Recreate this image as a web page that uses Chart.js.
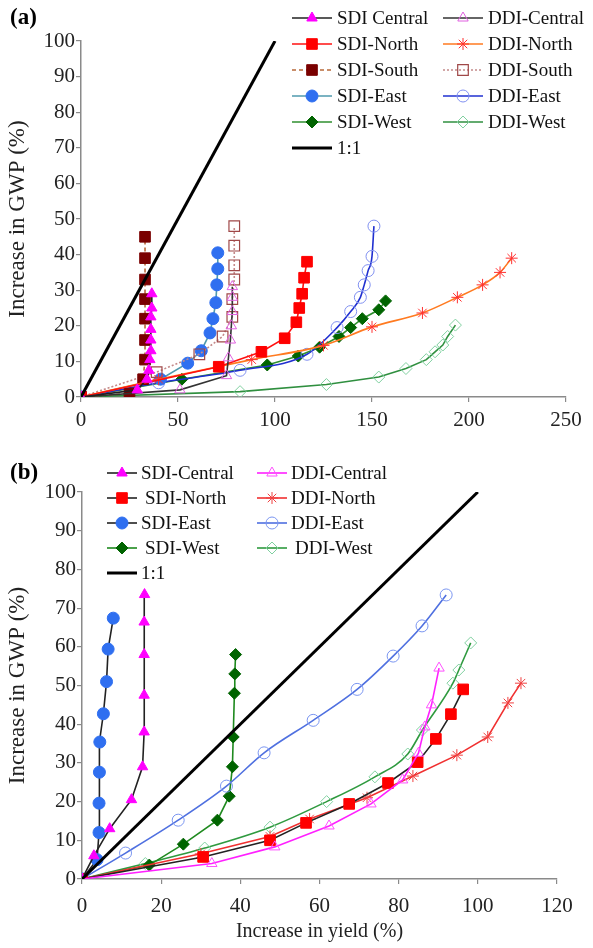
<!DOCTYPE html>
<html>
<head>
<meta charset="utf-8">
<script src="https://cdn.jsdelivr.net/npm/chart.js@4.4.1/dist/chart.umd.min.js"></script>
<style>
  body { margin: 0; background: #fff; }
  canvas { display: block; }
</style>
</head>
<body>
<canvas id="chartA" width="593" height="430"></canvas>
<canvas id="chartB" width="593" height="518"></canvas>
<script>
// ---- panel (a) data: increase in yield (x) vs increase in GWP (y), % ----
const aSdiCentralX = [0, 29, 34, 35, 35.5, 36, 36, 36, 36, 36.5, 36.5];
const aSdiCentralY = [0, 2, 5, 7.5, 10.5, 13, 16, 19, 22.5, 25, 29];
const aSdiNorthX = [0, 71, 93, 105, 111, 112.5, 114, 115, 116.5];
const aSdiNorthY = [0, 8.5, 12.7, 16.5, 21, 25, 29, 33.5, 38];
const aSdiSouthX = [0, 25, 32, 33, 33, 33, 33, 33, 33, 33];
const aSdiSouthY = [0, 1, 5, 10.5, 16, 22, 27.5, 33, 39, 45];
const aSdiEastX = [0, 41, 55, 62, 66.5, 68, 69.5, 70, 70.5, 70.5];
const aSdiEastY = [0, 5, 9.5, 13, 18, 22, 26.5, 31.5, 36, 40.5];
const aSdiWestX = [0, 52, 96, 112, 123, 133, 139, 145, 153.5, 157];
const aSdiWestY = [0, 5, 9, 11.5, 14, 17, 19.5, 22, 24.5, 27];
const aDdiCentralX = [0, 51, 75, 76, 77, 77.5, 78, 78, 78];
const aDdiCentralY = [0, 2, 6, 11, 16, 20, 24, 28, 31];
const aDdiNorthX = [0, 40, 88, 125, 150, 176, 194, 207, 216, 222];
const aDdiNorthY = [0, 5, 10.5, 14.5, 19.7, 23.6, 28, 31.5, 35, 39];
const aDdiSouthX = [0, 39, 61, 73, 78, 78, 79, 79, 79, 79];
const aDdiSouthY = [0, 7, 12, 17, 22.5, 27.5, 33, 37, 42.5, 48];
const aDdiEastX = [0, 40, 82, 116.5, 132, 139, 144, 146, 148, 150, 151];
const aDdiEastY = [0, 4, 7.5, 12, 19.5, 24, 28, 31.5, 35.5, 39.5, 48];
const aDdiWestX = [0, 82, 126.5, 153.5, 167.5, 178, 182.5, 186.5, 189, 193];
const aDdiWestY = [0, 1.5, 3.5, 5.6, 8, 10.5, 12.7, 14.6, 17, 20.2];

// ---- panel (b) data ----
const bSdiCentralX = [0, 3, 7, 12.5, 15.3, 15.7, 15.7, 15.7, 15.7, 15.8];
const bSdiCentralY = [0, 6, 13, 20.5, 29, 38, 47.5, 58, 66.4, 73.5];
const bSdiNorthX = [0, 30.6, 47.5, 56.6, 67.5, 77.3, 84.8, 89.4, 93.2, 96.3];
const bSdiNorthY = [0, 5.7, 10, 14.5, 19.4, 24.8, 30.2, 36.2, 42.6, 49];
const bSdiEastX = [0, 3.8, 4.3, 4.3, 4.4, 4.5, 5.4, 6.2, 6.6, 7.9];
const bSdiEastY = [0, 5, 12, 19.6, 27.6, 35.4, 42.7, 51, 59.4, 67.4];
const bSdiWestX = [0, 17, 25.6, 34.2, 37.2, 38, 38.2, 38.5, 38.6, 38.8];
const bSdiWestY = [0, 3.6, 9, 15.2, 21.4, 29, 36.7, 48, 53, 58];
const bDdiCentralX = [0, 32.8, 48.7, 62.4, 73, 81, 85, 86.6, 88.3, 90.2];
const bDdiCentralY = [0, 4, 8.3, 13.7, 19.4, 25.6, 32.5, 39.3, 45, 54.5];
const bDdiNorthX = [0, 30, 47.5, 57.5, 72, 83.6, 94.7, 102.5, 107.6, 110.9];
const bDdiNorthY = [0, 6.5, 11, 15.5, 21, 26.6, 32, 36.7, 45.5, 50.6];
const bDdiEastX = [0, 11, 24.3, 36.5, 46, 58.4, 69.5, 78.6, 85.9, 92];
const bDdiEastY = [0, 6.7, 15.2, 24, 32.6, 41, 49, 57.6, 65.4, 73.4];
const bDdiWestX = [0, 16, 31, 47.5, 61.8, 74, 82.3, 86, 93.7, 95.2, 98.2];
const bDdiWestY = [0, 4, 8, 13.4, 20, 26.4, 32.3, 38.5, 50.6, 54, 61];

const oneToOneX = [0, 100];
const oneToOneY = [0, 100];

const aXTicks = [0, 50, 100, 150, 200, 250];
const bXTicks = [0, 20, 40, 60, 80, 100, 120];
const yTicks = [0, 10, 20, 30, 40, 50, 60, 70, 80, 90, 100];

const SERIF = "'Liberation Serif', 'Times New Roman', serif";

const pts = (xs, ys) => xs.map((x, i) => ({ x, y: ys[i] }));

// one series: line colour, marker style/colours, optional dash
const series = (label, xs, ys, o) => ({
  label,
  data: pts(xs, ys),
  borderColor: o.line,
  borderWidth: o.width || 1.6,
  borderDash: o.dash || [],
  pointStyle: o.style || false,
  pointRadius: o.style ? (o.r || 5) : 0,
  pointBackgroundColor: o.fill || 'rgba(0,0,0,0)',
  pointBorderColor: o.edge || o.fill || o.line,
  pointBorderWidth: o.pw || 1,
  cubicInterpolationMode: o.smooth ? 'monotone' : 'default',
  order: o.order || 0
});

// custom in-plot legend + panel letter
const panelLegend = {
  id: 'panelLegend',
  afterDraw(chart, args, opts) {
    const ctx = chart.ctx;
    ctx.save();
    ctx.font = 'bold 23px ' + SERIF;
    ctx.fillStyle = '#000';
    ctx.textBaseline = 'middle';
    ctx.fillText(opts.letter, opts.letterX, opts.letterY);

    ctx.font = opts.fontSize + 'px ' + SERIF;
    opts.items.forEach(it => {
      const ds = chart.data.datasets.find(d => d.label === it.label);
      if (!ds) return;
      const x0 = it.x, x1 = it.x + opts.sample, cy = it.y;
      ctx.strokeStyle = ds.borderColor;
      ctx.lineWidth = ds.borderWidth;
      ctx.setLineDash(ds.borderDash || []);
      ctx.beginPath();
      ctx.moveTo(x0, cy);
      ctx.lineTo(x1, cy);
      ctx.stroke();
      ctx.setLineDash([]);
      if (ds.pointStyle) {
        ctx.fillStyle = ds.pointBackgroundColor;
        ctx.strokeStyle = ds.pointBorderColor;
        ctx.lineWidth = ds.pointBorderWidth;
        if (Chart.helpers && Chart.helpers.drawPoint) {
          Chart.helpers.drawPoint(ctx, {
            pointStyle: ds.pointStyle, rotation: 0,
            radius: ds.pointRadius, borderWidth: ds.pointBorderWidth
          }, (x0 + x1) / 2, cy);
        }
      }
      ctx.fillStyle = '#111';
      ctx.fillText(it.label, x1 + opts.gap + (it.indent || 0), cy + 1);
    });
    ctx.restore();
  }
};

const axisCommon = (min, max, tickList, pad) => ({
  type: 'linear',
  min, max,
  afterBuildTicks: s => { s.ticks = tickList.map(v => ({ value: v })); },
  ticks: { color: '#222', font: { family: SERIF, size: 21 }, padding: pad },
  grid: { display: true, drawOnChartArea: false, drawTicks: true, tickLength: 5, color: '#8a8a8a', lineWidth: 1.2 },
  border: { display: true, color: '#8a8a8a', width: 1.5 }
});

const makeChart = (id, datasets, cfg) => new Chart(document.getElementById(id), {
  type: 'line',
  data: { datasets },
  options: {
    responsive: false,
    animation: false,
    layout: { padding: cfg.padding },
    plugins: { legend: { display: false }, tooltip: { enabled: false }, panelLegend: cfg.legend },
    scales: {
      x: Object.assign(axisCommon(0, cfg.xMax, cfg.xTicks, cfg.xPad), {
        title: { display: !!cfg.xTitle, text: cfg.xTitle || '', color: '#222', font: { family: SERIF, size: 20 }, padding: { top: 10 } },
        afterFit: s => { s.height = cfg.xHeight; }
      }),
      y: Object.assign(axisCommon(0, 100, yTicks, 1), {
        title: { display: true, text: 'Increase in GWP (%)', color: '#222', font: { family: SERIF, size: 23 }, padding: { bottom: 2 } },
        afterFit: s => { s.width = cfg.yWidth; }
      })
    }
  },
  plugins: [panelLegend]
});

// ---- panel (a) ----
const dsA = [
  series('SDI Central', aSdiCentralX, aSdiCentralY, { line: '#222', style: 'triangle', fill: '#ff00ff', r: 6 }),
  series('DDI-Central', aDdiCentralX, aDdiCentralY, { line: '#333', style: 'triangle', edge: '#e060e0', r: 6 }),
  series('SDI-North', aSdiNorthX, aSdiNorthY, { line: '#ff1010', style: 'rect', fill: '#ff0000', r: 7.5 }),
  series('DDI-North', aDdiNorthX, aDdiNorthY, { line: '#ff7a20', style: 'star', edge: '#ff3030', r: 6, smooth: true }),
  series('SDI-South', aSdiSouthX, aSdiSouthY, { line: '#b86a3a', dash: [4, 3], style: 'rect', fill: '#7a0000', r: 7.5 }),
  series('DDI-South', aDdiSouthX, aDdiSouthY, { line: '#c48a8a', dash: [2, 2], style: 'rect', edge: '#a04848', r: 7.5, pw: 1.2 }),
  series('SDI-East', aSdiEastX, aSdiEastY, { line: '#4f9aae', style: 'circle', fill: '#2f6ff0', r: 6 }),
  series('DDI-East', aDdiEastX, aDdiEastY, { line: '#2030d0', style: 'circle', edge: '#8090f0', r: 6, smooth: true }),
  series('SDI-West', aSdiWestX, aSdiWestY, { line: '#2f8f2f', style: 'rectRot', fill: '#006400', r: 6 }),
  series('DDI-West', aDdiWestX, aDdiWestY, { line: '#2f8f3f', style: 'rectRot', edge: '#80d0a0', r: 6 }),
  series('1:1', oneToOneX, oneToOneY, { line: '#000', width: 3, order: -1 })
];

const legA = (label, col, row) => ({ label, x: col ? 443 : 292, y: 18 + row * 26 });

makeChart('chartA', dsA, {
  padding: { top: 41, right: 27, left: 0, bottom: 0 },
  xMax: 250, xTicks: aXTicks, xPad: 6, xHeight: 33, yWidth: 81,
  legend: {
    letter: '(a)', letterX: 10, letterY: 18, fontSize: 19, sample: 40, gap: 5,
    items: [
      legA('SDI Central', 0, 0), legA('DDI-Central', 1, 0),
      legA('SDI-North', 0, 1), legA('DDI-North', 1, 1),
      legA('SDI-South', 0, 2), legA('DDI-South', 1, 2),
      legA('SDI-East', 0, 3), legA('DDI-East', 1, 3),
      legA('SDI-West', 0, 4), legA('DDI-West', 1, 4),
      legA('1:1', 0, 5)
    ]
  }
});

// ---- panel (b) ----
const dsB = [
  series('SDI-Central', bSdiCentralX, bSdiCentralY, { line: '#222', style: 'triangle', fill: '#ff00ff', r: 6 }),
  series('DDI-Central', bDdiCentralX, bDdiCentralY, { line: '#ff20ff', style: 'triangle', edge: '#ff50ff', r: 6 }),
  series('SDI-North', bSdiNorthX, bSdiNorthY, { line: '#222', style: 'rect', fill: '#ff0000', r: 7.5 }),
  series('DDI-North', bDdiNorthX, bDdiNorthY, { line: '#f03030', style: 'star', edge: '#f04040', r: 6 }),
  series('SDI-East', bSdiEastX, bSdiEastY, { line: '#222', style: 'circle', fill: '#2f6ff0', r: 6 }),
  series('DDI-East', bDdiEastX, bDdiEastY, { line: '#4f70e0', style: 'circle', edge: '#7a95f0', r: 6, smooth: true }),
  series('SDI-West', bSdiWestX, bSdiWestY, { line: '#1f8a1f', style: 'rectRot', fill: '#006400', r: 6 }),
  series('DDI-West', bDdiWestX, bDdiWestY, { line: '#2f9a3f', style: 'rectRot', edge: '#80d0a0', r: 6, smooth: true }),
  series('1:1', oneToOneX, oneToOneY, { line: '#000', width: 3, order: -1 })
];

const legB = (label, col, row, indent) => ({ label, x: col ? 257 : 107, y: 43 + row * 25, indent });

makeChart('chartB', dsB, {
  padding: { top: 62, right: 36, left: 0, bottom: 0 },
  xMax: 120, xTicks: bXTicks, xPad: 10, xHeight: 69, yWidth: 82, xTitle: 'Increase in yield (%)',
  legend: {
    letter: '(b)', letterX: 10, letterY: 43, fontSize: 19, sample: 30, gap: 4,
    items: [
      legB('SDI-Central', 0, 0), legB('DDI-Central', 1, 0),
      legB('SDI-North', 0, 1, 4), legB('DDI-North', 1, 1),
      legB('SDI-East', 0, 2), legB('DDI-East', 1, 2),
      legB('SDI-West', 0, 3, 4), legB('DDI-West', 1, 3, 4),
      legB('1:1', 0, 4)
    ]
  }
});
</script>
</body>
</html>
